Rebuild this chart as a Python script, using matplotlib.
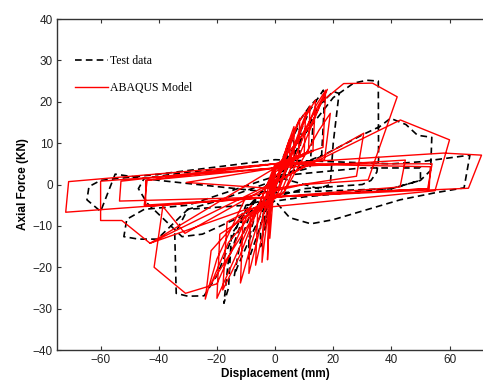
import numpy as np
import matplotlib
matplotlib.use("Agg")
import matplotlib.pyplot as plt

# ABAQUS model trace (displacement mm, axial force kN)
model_x = [0, 3, 5, 5, 0, -1, -1.8, -1.6, 0,
           4, 6.5, 6.5, 0, -2, -2.6, -2.3, 0,
           6, 8.5, 8, 0, -3, -4.5, -4, 0,
           8, 10.5, 10, 0, -4, -6.7, -6, 1,
           10, 12, 11.5, 0, -6, -9, -8.5, 1,
           11, 13.9, 13, 0, -8, -11.9, -11, 2,
           14, 17.4, 16.5, 0, -12, -18, -16.5, 3,
           15, 19, 17, 0, -14, -20, -19, 3,
           16, 23.6, 33.5, 42, 32, 10, -10, -20, -24, -22, -8,
           -20, -30.8, -41.6, -38.6, -31, 30.5, 28, 0, -30.5, 0,
           -43, 43.1, 60, 55, -10, -43, -52.7, -60, -60, 0,
           44.8, 43, 0, -44.5, -44.5, 0,
           53.4, 53, 0, -53.5, -53, 0,
           58, 71, 66.5, 0, -72, -71, 0,
           54, 52.5, 0, -45, -44, 0,
           12, 18, 2, -3, -16, -22, -4, 0]
model_y = [0, 7, 11, 5, 2, -6, -13, -6, -1,
           9, 14, 6, 3, -9, -18.2, -8, -1,
           12, 16, 7, 3.5, -10, -18.8, -7, -1,
           15, 17.5, 7, 4, -11, -19.5, -7, -1,
           16, 19, 8, 4, -13, -21.5, -8, -2,
           17, 20.4, 8, 4.5, -14, -23.8, -8, -2,
           19, 22.8, 9, 5, -17, -25.5, -9, -2,
           13, 17.2, 6, 4, -18, -27.5, -12, -2,
           20, 24.4, 24.5, 21.2, 1.1, 0, -3, -18, -27.7, -16, -5,
           -24, -26.3, -20, -5.3, -11.8, 12.4, 2, -1, 0.5, 4,
           -14.2, 15.6, 10.8, -1.5, -6, -14.2, -8.7, -8.7, 0.8, 4,
           5.9, -0.6, -3, -5.3, 1, 5,
           4.3, -1, -3, -4, 0.8, 5,
           7.6, 7.1, -0.9, -3, -6.7, 0.7, 5,
           5, -1, -3, -5, 1, 4,
           14, 23, 3, -3, -14, -24, -4, 0]

# test data trace
test_x = [0, 5, 8, 9, 8, 0, -3, -5, -5, -3, 0,
          3, 6, 7, 6, 0, -2, -3.5, -3.5, 0,
          8, 12, 14, 13, 12, 0, -5, -9, -9, -6, 0,
          12, 16.6, 17, 16, 2, -8, -13, -14, -12, -8, 0,
          15, 20, 22, 20, 19, 15, 0, -10, -16, -17.6, -16, -15, -8,
          10, 20, 27, 31.6, 35.5, 35.6, 35, 33, 30, 10, -10, -16, -20,
          -24.4, -30, -34, -34.5, -30, -20, 0,
          30, 36, 39.7, 45, 49, 53.9, 53.5, 50, 40, 10, -10,
          -30, -40.5, -47, -52, -51, -45, -30, 0,
          30, 50, 50, 40, 0, -40, -55, -60, -64.7, -64, -60, -40, 0,
          40, 50, 67, 65, 55, 43, 20, 12.3, 5, 0,
          -25, -32, -44, -47, -45, -30, 0]
test_y = [0, 10, 14, 12, 4, 1, -8, -15, -10, -4, -1,
          7, 11, 9, 3, 0, -6, -11, -7, -1,
          15, 19, 20.4, 14, 4, 2, -10, -18, -13, -5, -1,
          18, 22.8, 20, 7, 3, -12, -20, -22, -14, -6, -2,
          19, 22.5, 22, 10, 0, -1, 2, -6, -18, -28.7, -25, -12, -5,
          12, 21, 24.5, 25.2, 25, 5.9, 3, 1, 0, -1, -5, -15, -22,
          -26.9, -27, -26.3, -12, -6, -4, 1,
          12, 14, 16, 14.5, 11.9, 11.4, 3.4, 1, -1, -3, -5,
          -6, -13.2, -13.2, -12.6, -8.4, -6, -5, 2,
          4, 4, 1, -1, -2, 1, 2.5, -6.5, -3.7, -0.5, 1, 2.5, 6,
          5, 5.5, 7.1, -0.8, -2, -3.7, -8.5, -9.5, -8, -4,
          -12, -12.6, -4.5, -1, 1.5, 3, 5]

plt.rcParams['font.family'] = ['Liberation Sans', 'DejaVu Sans']
plt.rcParams['axes.unicode_minus'] = True

fig = plt.figure(figsize=(4.83, 3.85), dpi=100)
ax = fig.add_axes([0.118, 0.0909, 0.903, 0.8597])

ax.plot(test_x, test_y, color='black', lw=1.2, ls=(0, (4, 2.5)),
        label='Test data')
ax.plot(model_x, model_y, color='red', lw=1.0, label='ABAQUS Model')

ax.set_xlim(-75, 75)
ax.set_ylim(-40, 40)
ax.set_xticks([-60, -40, -20, 0, 20, 40, 60])
ax.set_yticks([-40, -30, -20, -10, 0, 10, 20, 30, 40])
ax.tick_params(direction='in', top=True, right=True, length=3, width=0.8,
               labelsize=8.5, colors='#333333', labelcolor='#222222', pad=3)
for s in ax.spines.values():
    s.set_linewidth(1.0)
    s.set_color('#333333')

ax.set_xlabel('Displacement (mm)', fontsize=8.5, fontweight='bold', labelpad=1)
ax.set_ylabel('Axial Force (KN)', fontsize=8.5, fontweight='bold', labelpad=3)

ax.legend(loc='upper left', bbox_to_anchor=(0.041, 0.891), frameon=False,
          borderpad=0, borderaxespad=0, handlelength=2.8, handletextpad=0.2,
          labelspacing=1.3, prop={'family': 'Liberation Serif', 'size': 8.5})

fig.savefig('out.png', dpi=100)
